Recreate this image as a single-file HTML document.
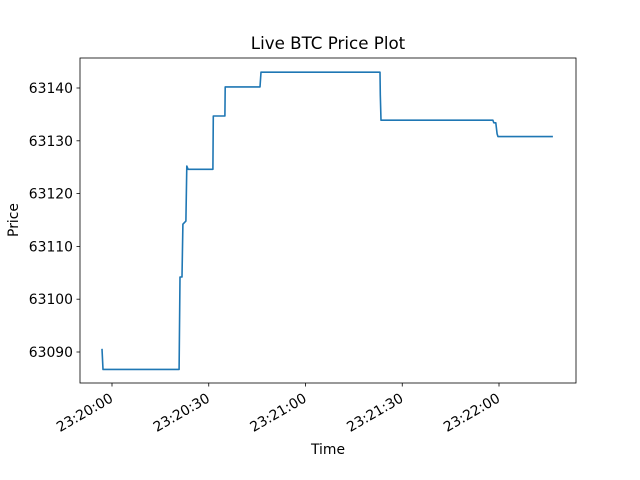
<!DOCTYPE html>
<html><head><meta charset="utf-8"><style>body{margin:0;background:#fff}svg{display:block;font-family:"DejaVu Sans","Liberation Sans",sans-serif}</style></head>
<body>
<svg id="c" width="640" height="480" viewBox="0 0 640 480">
<rect width="640" height="480" fill="#fff"/>
<text x="328" y="49" text-anchor="middle" font-size="16.7">Live BTC Price Plot</text>
<g id="plot"></g>
<rect x="80" y="58" width="496" height="325" fill="none" stroke="#000" stroke-width="0.8"/>
<text x="328" y="454" text-anchor="middle" font-size="13.9">Time</text>
<text transform="translate(18,220) rotate(-90)" text-anchor="middle" font-size="13.9">Price</text>
</svg>
<script>
const times=[-3.1,-2.8,20.8,21.1,21.7,22.0,22.9,23.2,23.6,31.3,31.4,35.0,35.1,45.9,46.2,83.1,83.2,83.4,118.1,118.4,119.0,119.4,119.7,136.7];
const prices=[63090.6,63086.7,63086.7,63104.2,63104.2,63114.2,63114.8,63125.2,63124.6,63124.6,63134.7,63134.7,63140.2,63140.2,63143.0,63143.0,63138.7,63133.9,63133.9,63133.4,63133.4,63131.3,63130.8,63130.8];
const yTicks=[63090,63100,63110,63120,63130,63140];
const xTicks=[0,30,60,90,120];
const xTickLabels=["23:20:00","23:20:30","23:21:00","23:21:30","23:22:00"];
const NS="http://www.w3.org/2000/svg";
function xs(t){return 112+t*3.225;}
function ys(p){return 88+(63140-p)*5.28;}
const g=document.getElementById('plot');
function mk(tag,attrs){const e=document.createElementNS(NS,tag);for(const k in attrs)e.setAttribute(k,attrs[k]);g.appendChild(e);return e;}
yTicks.forEach(v=>{
  const y=ys(v);
  const l=mk('line',{x1:76.5,x2:80,y1:y,y2:y,stroke:'#000','stroke-width':0.8});
  
  
  const t=mk('text',{x:73,y:y+5,'text-anchor':'end','font-size':13.9});
  t.textContent=v;
  
  
});
xTicks.forEach((v,i)=>{
  const x=xs(v);
  const l=mk('line',{x1:x,x2:x,y1:383,y2:386.5,stroke:'#000','stroke-width':0.8});
  
  
  const t=mk('text',{x:0,y:0,'text-anchor':'end','font-size':13.9,transform:`translate(${x+2},${401}) rotate(-30)`});
  t.textContent=xTickLabels[i];
  
  
});
const pts=times.map((t,i)=>xs(t).toFixed(1)+','+ys(prices[i]).toFixed(1)).join(' ');
const pl=mk('polyline',{points:pts,fill:'none',stroke:'#1f77b4','stroke-width':1.6,'stroke-linejoin':'round'});


</script>
</body></html>
